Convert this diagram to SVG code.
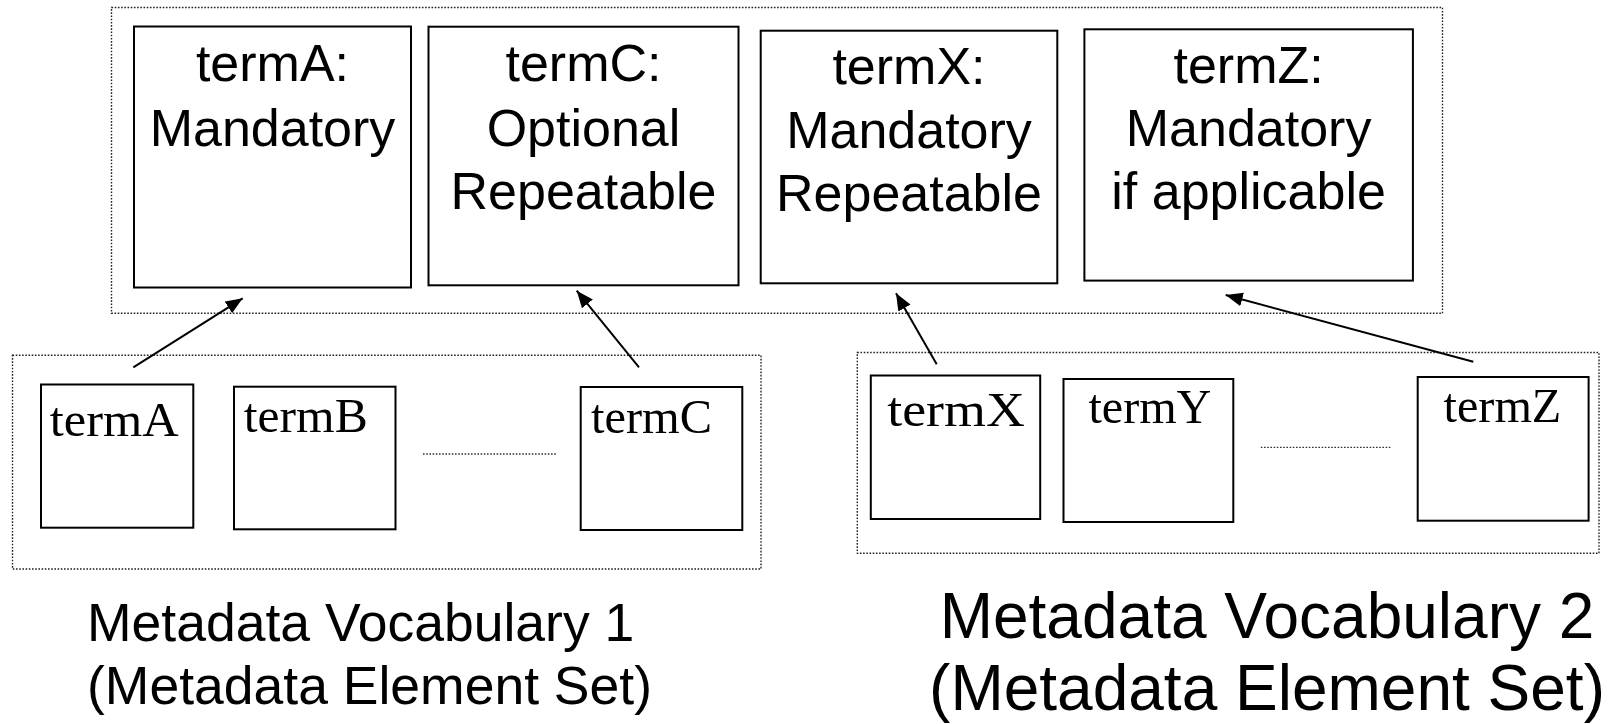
<svg xmlns="http://www.w3.org/2000/svg" width="1619" height="724" viewBox="0 0 1619 724">
  <style>
    .frame { fill: none; stroke: #222; stroke-width: 1.4; stroke-dasharray: 1.6 1.6; }
    .box { fill: #fff; stroke: #000; stroke-width: 2; }
    .big { font-family: "Liberation Sans", Arial, sans-serif; font-size: 52px; fill: #000; text-anchor: middle; }
    .term { font-family: "Liberation Serif", "Times New Roman", serif; font-size: 48px; fill: #000; }
    .label { font-family: "Liberation Sans", Arial, sans-serif; fill: #000; }
    .link { stroke: #000; stroke-width: 2; fill: none; marker-end: url(#head); }
    .ellipsis { stroke: #333; stroke-width: 1.3; stroke-dasharray: 1.6 1.6; }
  </style>
  <defs>
    <marker id="head" markerUnits="userSpaceOnUse" markerWidth="20" markerHeight="16" refX="17" refY="7" orient="auto">
      <path d="M0,0 L17,7 L0,14 Z" fill="#000"/>
    </marker>
  </defs>
  <rect width="1619" height="724" fill="#fff"/>

  <!-- element set frame (top) -->
  <rect class="frame" x="111.5" y="7.5" width="1331" height="305.8"/>

  <g id="setA">
    <rect class="box" x="134" y="26.5" width="277" height="261"/>
    <text class="big" x="272.5" y="81">termA:</text>
    <text class="big" x="272.5" y="145.7">Mandatory</text>
  </g>
  <g id="setC">
    <rect class="box" x="428.5" y="26.7" width="310" height="258.6"/>
    <text class="big" x="583.5" y="81">termC:</text>
    <text class="big" x="583.5" y="145.7">Optional</text>
    <text class="big" x="583.5" y="209">Repeatable</text>
  </g>
  <g id="setX">
    <rect class="box" x="760.7" y="30.7" width="296.6" height="252.6"/>
    <text class="big" x="909" y="84.3">termX:</text>
    <text class="big" x="909" y="147.7">Mandatory</text>
    <text class="big" x="909" y="211">Repeatable</text>
  </g>
  <g id="setZ">
    <rect class="box" x="1084.4" y="29.3" width="328.5" height="251.3"/>
    <text class="big" x="1248.6" y="83">termZ:</text>
    <text class="big" x="1248.6" y="145.7">Mandatory</text>
    <text class="big" x="1248.6" y="209">if applicable</text>
  </g>

  <!-- vocabulary 1 -->
  <rect class="frame" x="12.5" y="355.3" width="748.5" height="213.7"/>
  <g id="v1-termA">
    <rect class="box" x="41" y="384.5" width="152.3" height="143.2"/>
    <text class="term" x="49.7" y="435.7" textLength="129" lengthAdjust="spacingAndGlyphs">termA</text>
  </g>
  <g id="v1-termB">
    <rect class="box" x="234" y="386.7" width="161.5" height="142.6"/>
    <text class="term" x="243.8" y="431.7" textLength="124" lengthAdjust="spacingAndGlyphs">termB</text>
  </g>
  <g id="v1-termC">
    <rect class="box" x="580.7" y="387" width="161.6" height="143"/>
    <text class="term" x="591" y="432.7" textLength="121" lengthAdjust="spacingAndGlyphs">termC</text>
  </g>
  <line class="ellipsis" x1="423" y1="454" x2="557" y2="454"/>

  <!-- vocabulary 2 -->
  <rect class="frame" x="857.3" y="352.5" width="741.7" height="200.8"/>
  <g id="v2-termX">
    <rect class="box" x="870.8" y="375.5" width="169.4" height="143.5"/>
    <text class="term" x="887.2" y="426" textLength="137.6" lengthAdjust="spacingAndGlyphs">termX</text>
  </g>
  <g id="v2-termY">
    <rect class="box" x="1063.5" y="379" width="169.8" height="143"/>
    <text class="term" x="1088.4" y="422.7" textLength="123" lengthAdjust="spacingAndGlyphs">termY</text>
  </g>
  <g id="v2-termZ">
    <rect class="box" x="1417.7" y="377" width="170.9" height="143.7"/>
    <text class="term" x="1443.6" y="421.7" textLength="117.7" lengthAdjust="spacingAndGlyphs">termZ</text>
  </g>
  <line class="ellipsis" x1="1260.8" y1="447.3" x2="1390.4" y2="447.3"/>

  <!-- mappings -->
  <g id="connectors">
    <line class="link" x1="133.3" y1="367.3" x2="242.7" y2="298.3"/>
    <line class="link" x1="639" y1="367.3" x2="576.7" y2="290.7"/>
    <line class="link" x1="936.7" y1="364.3" x2="896" y2="293.3"/>
    <line class="link" x1="1473.3" y1="361.7" x2="1225.7" y2="295"/>
  </g>

  <!-- captions -->
  <g id="caption-1">
    <text class="label" x="87" y="641" font-size="53.5">Metadata Vocabulary 1</text>
    <text class="label" x="87" y="704" font-size="53.5">(Metadata Element Set)</text>
  </g>
  <g id="caption-2">
    <text class="label" x="1267" y="638" font-size="64" text-anchor="middle">Metadata Vocabulary 2</text>
    <text class="label" x="1267" y="710" font-size="64" text-anchor="middle">(Metadata Element Set)</text>
  </g>
</svg>
